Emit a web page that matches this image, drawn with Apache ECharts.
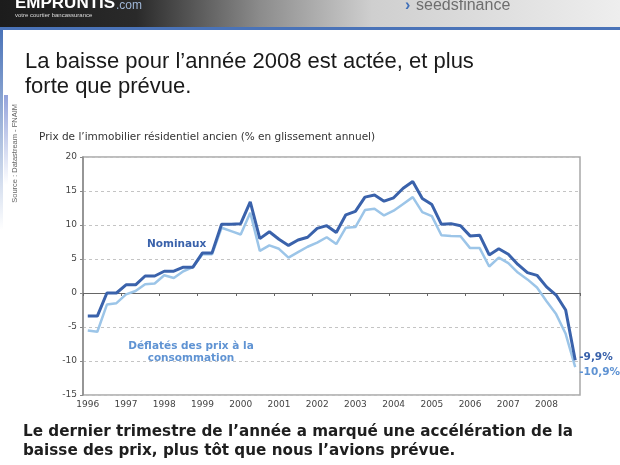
<!DOCTYPE html>
<html>
<head>
<meta charset="utf-8">
<script src="https://cdn.jsdelivr.net/npm/echarts@6/dist/echarts.min.js"></script>
<style>
html,body{margin:0;padding:0;background:#fff;}
#c{width:620px;height:465px;}
</style>
</head>
<body>
<div id="c"></div>
<script>
// ---- data (quarterly, % year-on-year) ----
var years = ['1996','1997','1998','1999','2000','2001','2002','2003','2004','2005','2006','2007','2008'];
var quarters = [];
years.forEach(function(y){ for (var q = 1; q <= 4; q++) quarters.push(y + ' T' + q); });

var nominaux = [
  -3.4, -3.4, 0.0, 0.0,
  1.2, 1.2, 2.5, 2.5,
  3.2, 3.2, 3.8, 3.8,
  5.9, 5.9, 10.1, 10.1,
  10.2, 13.4, 8.0, 9.0,
  7.9, 7.0, 7.8, 8.2,
  9.5, 9.9, 8.9, 11.5,
  12.0, 14.1, 14.4, 13.5,
  14.0, 15.4, 16.4, 13.9,
  13.0, 10.1, 10.2, 9.9,
  8.4, 8.5, 5.6, 6.5,
  5.7, 4.2, 3.0, 2.6,
  0.9, -0.3, -2.5, -9.9
];
var deflates = [
  -5.5, -5.7, -1.7, -1.5,
  -0.2, 0.3, 1.3, 1.4,
  2.6, 2.2, 3.2, 3.8,
  5.7, 5.7, 9.6, 9.1,
  8.6, 11.8, 6.2, 7.0,
  6.5, 5.2, 6.0, 6.8,
  7.4, 8.2, 7.2, 9.6,
  9.7, 12.2, 12.4, 11.4,
  12.1, 13.1, 14.1, 11.9,
  11.3, 8.5, 8.4, 8.35,
  6.6, 6.6, 3.9, 5.2,
  4.4, 3.0, 2.0, 0.8,
  -1.2, -3.1, -6.0, -10.9
];
var yTicks = [-15, -10, -5, 0, 5, 10, 15, 20];

var DARK = '#3a62ab';
var LIGHT = '#9cc5e8';
var MID = '#5f93d3';

var chart = echarts.init(document.getElementById('c'), null, {renderer: 'canvas'});

function pct(v){ return v.toFixed(1).replace('.', ',') + '%'; }

chart.setOption({
  animation: false,
  backgroundColor: '#ffffff',
  grid: {left: 83, right: 40, top: 157, bottom: 70, show: true, borderColor: '#a8a8a8', borderWidth: 1.5, backgroundColor: 'transparent'},
  xAxis: [
    {
      type: 'category', data: quarters, boundaryGap: true, position: 'bottom',
      axisLine: {show: false, onZero: false},
      axisTick: {show: false},
      axisLabel: {
        interval: 3, color: '#444', fontFamily: 'DejaVu Sans', fontSize: 9, margin: 5,
        formatter: function(v, i){ return years[Math.floor(i / 4)]; }
      },
      splitLine: {show: false}
    },
    {
      type: 'category', data: quarters, boundaryGap: true, position: 'bottom',
      axisLine: {show: true, onZero: true, lineStyle: {color: '#666', width: 1}},
      axisTick: {show: true, interval: 3, length: 3, inside: false, lineStyle: {color: '#666'}},
      axisLabel: {show: false},
      splitLine: {show: false}
    }
  ],
  yAxis: {
    type: 'value', min: yTicks[0], max: yTicks[yTicks.length - 1], interval: 5,
    axisLine: {show: true, lineStyle: {color: '#8a8a8a', width: 1.5}},
    axisTick: {show: true, length: 3, lineStyle: {color: '#8a8a8a'}},
    axisLabel: {color: '#444', fontFamily: 'DejaVu Sans', fontSize: 9, margin: 6},
    splitLine: {show: true, lineStyle: {color: '#c4c4c4', type: [3, 3], width: 1}}
  },
  series: [
    {
      name: 'Déflatés', type: 'line', data: deflates, xAxisIndex: 0,
      symbol: 'none', lineStyle: {color: LIGHT, width: 2.5}, itemStyle: {color: LIGHT},
      endLabel: {show: true, formatter: function(p){ return pct(p.value); }, color: MID,
        fontFamily: 'DejaVu Sans', fontWeight: 'bold', fontSize: 10.5, distance: 4, offset: [0, 5]},
      z: 2
    },
    {
      name: 'Nominaux', type: 'line', data: nominaux, xAxisIndex: 0,
      symbol: 'none', lineStyle: {color: DARK, width: 3}, itemStyle: {color: DARK},
      endLabel: {show: true, formatter: function(p){ return pct(p.value); }, color: DARK,
        fontFamily: 'DejaVu Sans', fontWeight: 'bold', fontSize: 10.5, distance: 4, offset: [0, -3]},
      z: 3
    }
  ],
  graphic: [
    // header band
    {type: 'rect', left: 0, top: 0, shape: {width: 620, height: 27}, z: 0,
      style: {fill: new echarts.graphic.LinearGradient(0, 0, 1, 0, [
        {offset: 0, color: '#1c1c1c'}, {offset: 0.22, color: '#2a2a2a'},
        {offset: 0.42, color: '#8c8c8c'}, {offset: 0.6, color: '#cfcfcf'}, {offset: 1, color: '#eeeeee'}])}},
    {type: 'rect', left: 0, top: 27, shape: {width: 620, height: 3}, style: {fill: '#4a73b8'}},
    {type: 'rect', left: 0, top: 30, shape: {width: 3, height: 200},
      style: {fill: new echarts.graphic.LinearGradient(0, 0, 0, 1, [
        {offset: 0, color: 'rgba(74,115,184,1)'}, {offset: 1, color: 'rgba(74,115,184,0)'}])}},
    {type: 'rect', left: 4, top: 95, shape: {width: 4, height: 90},
      style: {fill: new echarts.graphic.LinearGradient(0, 0, 0, 1, [
        {offset: 0, color: 'rgba(120,140,210,0.8)'}, {offset: 1, color: 'rgba(120,140,210,0)'}])}},
    {type: 'text', left: 15, top: -5, style: {text: 'EMPRUNTIS', fill: '#ffffff', font: 'bold 17px "Liberation Sans"'}},
    {type: 'text', left: 116, top: 0, style: {text: '.com', fill: '#9fb6d6', font: '12px "Liberation Sans"'}},
    {type: 'text', left: 15, top: 12, style: {text: 'votre courtier bancassurance', fill: '#dddddd', font: '6px "Liberation Sans"'}},
    {type: 'text', left: 405, top: -2, style: {text: '›', fill: '#3f6fb8', font: 'bold 16px "Liberation Sans"'}},
    {type: 'text', left: 416, top: -2, style: {text: 'seedsfinance', fill: '#6e6e6e', font: '16px "Liberation Sans"'}},
    // title
    {type: 'text', left: 25, top: 49, style: {text: 'La baisse pour l\u2019année 2008 est actée, et plus\nforte que prévue.', fill: '#1a1a1a', font: '22px "Liberation Sans"', lineHeight: 25}},
    // source
    {type: 'text', left: 11, top: 104, rotation: Math.PI / 2, style: {text: 'Source : Datastream - FNAIM', fill: '#666', font: '7.5px "Liberation Sans"'}},
    // chart title
    {type: 'text', left: 39, top: 132, style: {text: 'Prix de l\u2019immobilier résidentiel ancien (% en glissement annuel)', fill: '#333', font: '10.5px "DejaVu Sans"'}},
    // series annotations
    {type: 'text', left: 147, top: 239, style: {text: 'Nominaux', fill: DARK, font: 'bold 10.5px "DejaVu Sans"'}},
    {type: 'text', x: 191, y: 341, style: {text: 'Déflatés des prix à la', fill: MID, font: 'bold 10.5px "DejaVu Sans"', align: 'center', verticalAlign: 'top'}},
    {type: 'text', x: 191, y: 353, style: {text: 'consommation', fill: MID, font: 'bold 10.5px "DejaVu Sans"', align: 'center', verticalAlign: 'top'}},
    // footer
    {type: 'text', left: 23, top: 423, style: {text: 'Le dernier trimestre de l\u2019année a marqué une accélération de la\nbaisse des prix, plus tôt que nous l\u2019avions prévue.', fill: '#1e1e1e', font: 'bold 15.2px "DejaVu Sans"', lineHeight: 19}}
  ]
});
</script>
</body>
</html>
